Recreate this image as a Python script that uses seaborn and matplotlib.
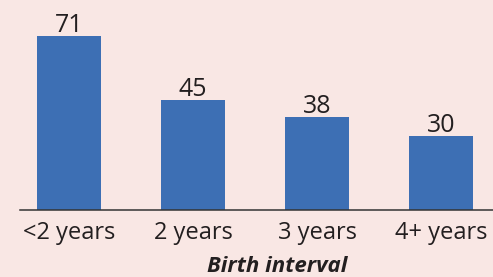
import matplotlib
matplotlib.use("Agg")
import matplotlib.pyplot as plt
import seaborn as sns
import pandas as pd

# --- data ---
intervals = ["<2 years", "2 years", "3 years", "4+ years"]
values = [71, 45, 38, 30]
x_title = "Birth interval"

BG = "#f9e7e4"
BAR = "#3d6fb4"
TXT = "#231f20"

sns.set_theme(style="white")
plt.rcParams["font.family"] = ["Open Sans", "DejaVu Sans"]

df = pd.DataFrame({"interval": intervals, "value": values})

fig = plt.figure(figsize=(4.93, 2.77), dpi=100, facecolor=BG)
ax = fig.add_axes([20 / 493, 67 / 277, 473 / 493, 210 / 277])
ax.set_facecolor(BG)

sns.barplot(data=df, x="interval", y="value", color=BAR, width=0.516,
            saturation=1, linewidth=0, edgecolor="none", ax=ax)

for i, v in enumerate(values):
    ax.annotate(str(v), (i, v), xytext=(0, 3), textcoords="offset points",
                ha="center", va="baseline", fontsize=18, color=TXT)

ax.set_xlim(-0.395, 3.419)
ax.set_ylim(0, 85.7)
ax.set_yticks([])
ax.set_xlabel("")
ax.set_ylabel("")
ax.tick_params(axis="x", length=0, pad=8, labelsize=17, colors=TXT)
for s in ["top", "left", "right"]:
    ax.spines[s].set_visible(False)
ax.spines["bottom"].set_color("#333333")
ax.spines["bottom"].set_linewidth(1.1)

# axis title sits at the bottom edge, a bit right of centre
fig.text(277 / 493, 0.5 / 277, x_title, ha="center", va="bottom",
         fontsize=16, fontweight="bold", fontstyle="italic", color=TXT)

fig.savefig("out.png", dpi=100, facecolor=BG)
